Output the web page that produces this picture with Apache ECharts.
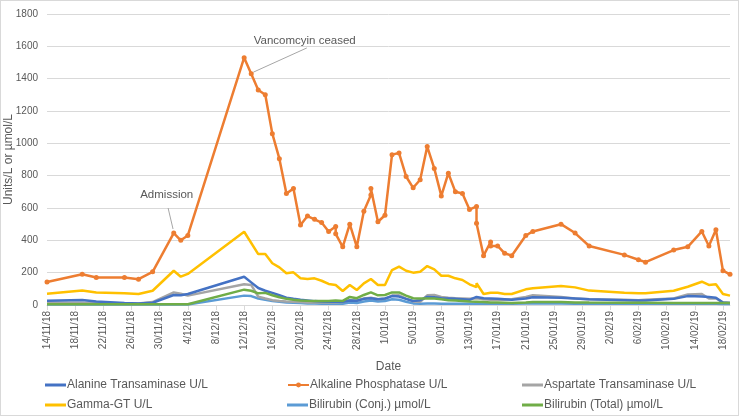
<!DOCTYPE html>
<html>
<head>
<meta charset="utf-8">
<script src="https://cdn.jsdelivr.net/npm/echarts@6/dist/echarts.min.js"></script>
<style>
html,body{margin:0;padding:0;background:#fff;}
#wrap{width:737px;height:414px;border:1px solid #D9D9D9;}
#chart{width:737px;height:414px;}
</style>
</head>
<body>
<div id="wrap"><div id="chart"></div></div>
<script>
// ---- DATA ----
const dates = [
 "14/11/18","19/11/18","21/11/18","25/11/18","27/11/18","29/11/18","02/12/18","03/12/18","04/12/18",
 "12/12/18","13/12/18","14/12/18","15/12/18","16/12/18","17/12/18","18/12/18","19/12/18","20/12/18",
 "21/12/18","22/12/18","23/12/18","24/12/18","25/12/18","25/12/18","26/12/18","27/12/18","28/12/18",
 "29/12/18","30/12/18","30/12/18","31/12/18","01/01/19","02/01/19","03/01/19","04/01/19","05/01/19",
 "06/01/19","07/01/19","08/01/19","09/01/19","10/01/19","11/01/19","12/01/19","13/01/19","14/01/19",
 "14/01/19","15/01/19","16/01/19","16/01/19","17/01/19","18/01/19","19/01/19","21/01/19","22/01/19",
 "26/01/19","28/01/19","30/01/19","04/02/19","06/02/19","07/02/19","11/02/19","13/02/19","15/02/19",
 "16/02/19","17/02/19","18/02/19","19/02/19"
];
const alt = [27,31,21,12,10,14,62,60,68,
 175,140,105,88,75,60,45,38,32,
 28,24,22,20,22,null,20,28,26,
 38,42,null,35,40,55,52,38,25,
 30,50,48,42,40,38,35,32,50,
 null,42,40,null,38,35,32,40,48,
 45,40,35,30,28,28,38,55,52,
 50,45,15,12];
const alp = [142,190,170,170,160,205,445,400,430,
 1530,1430,1330,1300,1060,905,690,720,495,
 550,530,510,455,485,440,360,500,360,
 580,680,720,515,555,930,940,795,725,
 775,980,845,675,815,700,690,590,610,
 505,305,390,365,365,320,305,430,455,
 500,445,365,310,280,265,340,360,455,
 365,465,212,190];
const ast = [15,14,12,10,10,18,78,70,58,
 128,124,52,40,30,25,22,20,18,
 16,15,15,15,16,null,18,30,28,
 40,45,null,35,38,58,60,40,22,
 20,60,62,50,45,42,40,38,42,
 null,35,32,null,32,33,35,50,60,
 50,40,35,32,30,32,40,65,68,
 40,42,15,12];
const ggt = [70,90,78,72,68,88,212,175,192,
 453,null,315,315,258,233,196,202,165,
 161,165,150,130,124,null,87,124,93,
 134,161,null,124,124,216,237,212,200,
 206,241,220,181,181,165,155,128,110,
 135,68,76,null,76,68,68,97,103,
 117,109,89,76,72,72,88,113,144,
 124,128,68,58];
const bilConj = [3,3,3,3,3,3,3,3,3,
 58,55,40,32,25,20,16,14,12,
 10,9,8,8,9,null,8,15,12,
 22,28,null,22,25,35,32,20,10,
 8,10,9,8,8,8,8,8,9,
 null,8,8,null,8,8,8,9,9,
 9,8,8,8,8,8,8,8,8,
 8,8,6,6];
const bilTot = [5,5,5,5,5,5,5,5,5,
 95,88,72,75,60,48,38,32,28,
 26,25,24,25,28,null,25,50,42,
 62,78,null,60,62,78,78,58,42,
 40,40,40,35,30,28,25,22,20,
 null,18,16,null,15,14,13,15,18,
 18,16,15,14,14,14,13,13,13,
 13,13,12,12];
const seriesNames = ["Alanine Transaminase U/L","Alkaline Phosphatase U/L","Aspartate Transaminase U/L",
 "Gamma-GT U/L","Bilirubin (Conj.) \u00b5mol/L","Bilirubin (Total) \u00b5mol/L"];
const seriesColors = ["#4472C4","#ED7D31","#A5A5A5","#FFC000","#5B9BD5","#70AD47"];
const yTicks = [0,200,400,600,800,1000,1200,1400,1600,1800];
const annotations = [
 {text:"Admission", at:["01/12/18",680], from:["01/12/18",600], to:["02/12/18",470], atShift:0, fromShift:0.2, toShift:-0.1},
 {text:"Vancomcyin ceased", at:["20/12/18",1633], from:["20/12/18",1590], to:["13/12/18",1440], atShift:0.6, fromShift:0.9, toShift:0.3}
];

// ---- helpers ----
const BASE = Date.UTC(2018,10,14);
function dayOffset(s){
  const p = s.split('/');
  const t = Date.UTC(2000+parseInt(p[2],10), parseInt(p[1],10)-1, parseInt(p[0],10));
  return Math.round((t-BASE)/86400000);
}
function fmtDay(v){
  if (Math.abs(v - Math.round(v))>1e-6 || Math.round(v)%4!==0) return '';
  const d = new Date(BASE + Math.round(v)*86400000);
  const dd = d.getUTCDate();
  const mm = String(d.getUTCMonth()+1).padStart(2,'0');
  const yy = String(d.getUTCFullYear()).slice(2);
  return dd + '/' + mm + '/' + yy;
}
const xs = dates.map(dayOffset);
function pairs(vals){
  const out=[];
  vals.forEach((v,i)=>{ if(v!==null && v!==undefined) out.push([xs[i],v]); });
  return out;
}
const allVals = [alt, alp, ast, ggt, bilConj, bilTot];
const FONT = "'Liberation Sans', Arial, sans-serif";
const TXT = '#595959';

const series = allVals.map((vals,i)=>{
  const s = {
    name: seriesNames[i],
    type: 'line',
    data: pairs(vals),
    color: seriesColors[i],
    lineStyle: {width: 2.5, color: seriesColors[i]},
    itemStyle: {color: seriesColors[i]},
    symbol: i===1 ? 'circle' : 'none',
    symbolSize: 5,
    showSymbol: i===1,
    z: [3,6,2,5,1,4][i],
    animation: false
  };
  if (i===1){
    s.markLine = {
      silent: true, symbol: ['none','none'], animation:false,
      lineStyle: {color:'#A6A6A6', width:1, type:'solid'},
      label: {show:false},
      data: annotations.map(a=>[
        {coord:[dayOffset(a.from[0])+a.fromShift, a.from[1]]},
        {coord:[dayOffset(a.to[0])+a.toShift, a.to[1]]}
      ])
    };
    s.markPoint = {
      silent:true, animation:false,
      symbol:'rect', symbolSize:[1,1],
      itemStyle:{color:'rgba(0,0,0,0)'},
      label:{show:true, position:'inside', color:TXT, fontSize:11.5, fontFamily:FONT},
      data: annotations.map(a=>({coord:[dayOffset(a.at[0])+a.atShift, a.at[1]], name:a.text, value:a.text,
        label:{formatter:a.text}}))
    };
  }
  return s;
});

// legend: 3 columns x 2 rows
const legendPos = [[44,378],[286,378],[521,378],[44,398],[286,398],[521,398]];
const legends = seriesNames.map((nm,i)=>({
  orient:'horizontal', left: legendPos[i][0], top: legendPos[i][1], padding:0,
  itemWidth: 21, itemHeight: i===1 ? 6 : 3, itemGap: 0,
  icon: i===1 ? undefined : 'rect',
  data: [nm],
  textStyle:{color:TXT, fontSize:12, fontFamily:FONT, padding:[0,0,0,-4]},
  selectedMode:false
}));

const chart = echarts.init(document.getElementById('chart'), null, {renderer:'canvas'});
chart.setOption({
  animation:false,
  textStyle:{fontFamily:FONT},
  grid:{left:46, right:8, top:13, bottom:110, containLabel:false, outerBoundsMode:'none'},
  legend: legends,
  xAxis:{
    type:'value', min:0, max:97, interval:4,
    name:'Date', nameLocation:'middle', nameGap:56, nameMoveOverlap:false,
    nameTextStyle:{color:TXT, fontSize:12, fontFamily:FONT},
    axisLine:{show:true, lineStyle:{color:'#D9D9D9', width:1}},
    axisTick:{show:true, length:5, lineStyle:{color:'#D9D9D9'}},
    splitLine:{show:false},
    axisLabel:{rotate:90, color:TXT, fontSize:10, fontFamily:FONT, margin:6,
      showMaxLabel:false, formatter: fmtDay}
  },
  yAxis:{
    type:'value', min:yTicks[0], max:yTicks[yTicks.length-1], interval:yTicks[1]-yTicks[0],
    name:'Units/L or \u00b5mol/L', nameLocation:'middle', nameGap:32, nameMoveOverlap:false,
    nameTextStyle:{color:TXT, fontSize:12, fontFamily:FONT},
    axisLine:{show:false}, axisTick:{show:false},
    splitLine:{lineStyle:{color:'#D9D9D9', width:1}},
    axisLabel:{color:TXT, fontSize:10, fontFamily:FONT, margin:9, formatter: v=>String(v)}
  },
  series: series
});
</script>
</body>
</html>
